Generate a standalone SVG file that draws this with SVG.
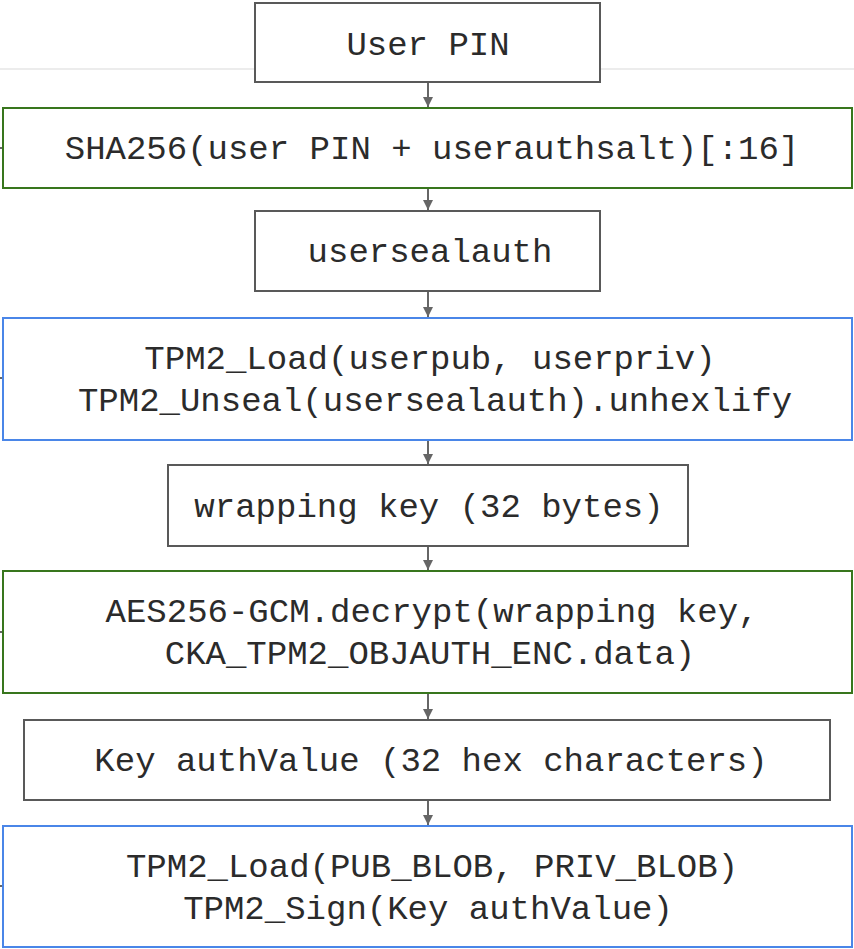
<svg xmlns="http://www.w3.org/2000/svg" width="854" height="949" viewBox="0 0 854 949">
  <defs>
    <marker id="arrow" viewBox="0 0 10 10" refX="10" refY="5" markerWidth="10" markerHeight="10" markerUnits="userSpaceOnUse" orient="auto">
      <path d="M0,0 L10,5 L0,10 z" fill="#666666"/>
    </marker>
    <style>
      .box { fill: #ffffff; stroke-width: 2; }
      .plain { stroke: #595959; }
      .green { stroke: #38761d; }
      .blue { stroke: #4a86e8; }
      .label { font-family: "Nimbus Mono PS", "Courier New", "Liberation Mono", monospace; font-size: 34px; fill: #2b2b2b; text-anchor: middle; }
      .conn { stroke: #666666; stroke-width: 2; fill: none; }
    </style>
  </defs>

  <rect width="854" height="949" fill="#ffffff"/>
  <!-- page rule behind the first box -->
  <line x1="0" y1="69" x2="854" y2="69" stroke="#ececec" stroke-width="2"/>

  <g id="connectors">
    <line class="conn" x1="428" y1="82" x2="428" y2="107" marker-end="url(#arrow)"/>
    <line class="conn" x1="428" y1="188" x2="428" y2="210" marker-end="url(#arrow)"/>
    <line class="conn" x1="428" y1="291" x2="428" y2="317" marker-end="url(#arrow)"/>
    <line class="conn" x1="428" y1="440" x2="428" y2="464" marker-end="url(#arrow)"/>
    <line class="conn" x1="428" y1="546" x2="428" y2="570" marker-end="url(#arrow)"/>
    <line class="conn" x1="428" y1="693" x2="428" y2="719" marker-end="url(#arrow)"/>
    <line class="conn" x1="428" y1="800" x2="428" y2="825" marker-end="url(#arrow)"/>
    <!-- stubs entering from the left edge -->
    <line class="conn" x1="0" y1="148" x2="3" y2="148"/>
    <line class="conn" x1="0" y1="378" x2="3" y2="378"/>
    <line class="conn" x1="0" y1="632" x2="3" y2="632"/>
    <line class="conn" x1="0" y1="886" x2="3" y2="886"/>
  </g>

  <g id="user-pin">
    <rect class="box plain" x="255" y="3" width="345" height="79"/>
    <text class="label" x="428" y="55">User PIN</text>
  </g>

  <g id="sha256">
    <rect class="box green" x="3" y="108" width="849" height="80"/>
    <text class="label" x="432" y="159">SHA256(user PIN + userauthsalt)[:16]</text>
  </g>

  <g id="usersealauth">
    <rect class="box plain" x="255" y="211" width="345" height="80"/>
    <text class="label" x="430" y="262">usersealauth</text>
  </g>

  <g id="tpm2-unseal">
    <rect class="box blue" x="3" y="318" width="849" height="122"/>
    <text class="label" x="430" y="369">TPM2_Load(userpub, userpriv)</text>
    <text class="label" x="435" y="411">TPM2_Unseal(usersealauth).unhexlify</text>
  </g>

  <g id="wrapping-key">
    <rect class="box plain" x="168" y="465" width="520" height="81"/>
    <text class="label" x="429" y="517">wrapping key (32 bytes)</text>
  </g>

  <g id="aes-decrypt">
    <rect class="box green" x="3" y="571" width="849" height="122"/>
    <text class="label" x="432" y="622">AES256-GCM.decrypt(wrapping key,</text>
    <text class="label" x="430" y="664">CKA_TPM2_OBJAUTH_ENC.data)</text>
  </g>

  <g id="key-authvalue">
    <rect class="box plain" x="24" y="720" width="806" height="80"/>
    <text class="label" x="431" y="771">Key authValue (32 hex characters)</text>
  </g>

  <g id="tpm2-sign">
    <rect class="box blue" x="3" y="826" width="849" height="121"/>
    <text class="label" x="432" y="877">TPM2_Load(PUB_BLOB, PRIV_BLOB)</text>
    <text class="label" x="428" y="919">TPM2_Sign(Key authValue)</text>
  </g>
</svg>
